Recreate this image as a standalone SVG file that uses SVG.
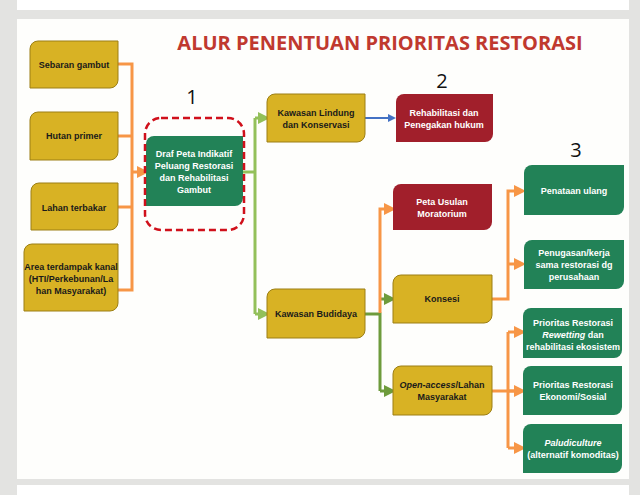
<svg xmlns="http://www.w3.org/2000/svg" width="640" height="495" viewBox="0 0 640 495">
<style>
.y{fill:#d8b224;stroke:#9c7f14;stroke-width:1}
.g{fill:#228257}
.r{fill:#a11f2b}
.t{font-family:"Liberation Sans Narrow","Liberation Sans",Arial,sans-serif;font-size:9px;font-weight:bold;text-anchor:middle}
.dk{fill:#1a1a1a}
.wh{fill:#ffffff}
.o{stroke:#f79646;stroke-width:3;fill:none}
.lg{stroke:#93c05a;stroke-width:3;fill:none}
.dg{stroke:#6e9b3c;stroke-width:3;fill:none}
</style>
<defs>
<marker id="ao" markerWidth="4" markerHeight="4" refX="2" refY="2" orient="auto" markerUnits="strokeWidth"><path d="M0,0L4,2L0,4z" fill="#f79646"/></marker>
<marker id="ag" markerWidth="4" markerHeight="4" refX="2" refY="2" orient="auto" markerUnits="strokeWidth"><path d="M0,0L4,2L0,4z" fill="#93c05a"/></marker>
<marker id="ad" markerWidth="4" markerHeight="4" refX="2" refY="2" orient="auto" markerUnits="strokeWidth"><path d="M0,0L4,2L0,4z" fill="#6e9b3c"/></marker>
<marker id="ab" markerWidth="4" markerHeight="4" refX="2" refY="2" orient="auto" markerUnits="strokeWidth"><path d="M0,0L4,2L0,4z" fill="#4472c4"/></marker>
</defs>
<rect width="640" height="495" fill="#e3e3e1"/>
<rect x="17" y="0" width="612" height="10" fill="#ffffff"/>
<rect x="17" y="19" width="612" height="460" fill="#fefefc"/>
<rect x="17" y="485" width="612" height="10" fill="#ffffff"/>
<text x="380" y="50" font-family="'Open Sans','Liberation Sans',sans-serif" font-size="20" font-weight="bold" fill="#c0392f" text-anchor="middle">ALUR PENENTUAN PRIORITAS RESTORASI</text>
<g font-family="'Open Sans','Liberation Sans',sans-serif" font-size="20" fill="#111" text-anchor="middle">
<text x="192" y="104">1</text><text x="442" y="88">2</text><text x="576" y="157">3</text>
</g>
<g id="connectors">
<path class="o" d="M118,64H132V290H118M118,136H132M118,207H132"/>
<path class="o" d="M132,172H143" marker-end="url(#ao)"/>
<path class="lg" d="M243,172H255M255,118V314"/>
<path class="lg" d="M255,118H264" marker-end="url(#ag)"/>
<path class="lg" d="M255,314H264" marker-end="url(#ag)"/>
<path d="M365,118H392" stroke="#4472c4" stroke-width="2" fill="none" marker-end="url(#ab)"/>
<path class="dg" d="M365,314H380V391"/>
<path class="dg" d="M380,299H390" marker-end="url(#ad)"/>
<path class="dg" d="M380,391H390" marker-end="url(#ad)"/>
<path class="o" d="M380,313V209H390" marker-end="url(#ao)"/>
<path class="o" d="M492,299H508V191H520" marker-end="url(#ao)"/>
<path class="o" d="M508,264H520" marker-end="url(#ao)"/>
<path class="o" d="M492,391H520M508,332V448" />
<path class="o" d="M508,332H520" marker-end="url(#ao)"/>
<path class="o" d="M508,391H520" marker-end="url(#ao)"/>
<path class="o" d="M508,448H520" marker-end="url(#ao)"/>
</g>
<g id="sebaran"><path class="y" d="M38,41h80v39a8,8 0 0 1 -8,8h-80v-39a8,8 0 0 1 8,-8z"/><text class="t dk" x="74" y="68">Sebaran gambut</text></g>
<g id="hutan"><path class="y" d="M38,112h80v40a8,8 0 0 1 -8,8h-80v-40a8,8 0 0 1 8,-8z"/><text class="t dk" x="74" y="139">Hutan primer</text></g>
<g id="lahan"><path class="y" d="M39,183h79v39a8,8 0 0 1 -8,8h-79v-39a8,8 0 0 1 8,-8z"/><text class="t dk" x="74" y="211">Lahan terbakar</text></g>
<g id="area"><path class="y" d="M32,244h86v59a8,8 0 0 1 -8,8h-86v-59a8,8 0 0 1 8,-8z"/><text class="t dk" x="71" y="270">Area terdampak kanal</text><text class="t dk" x="71" y="282">(HTI/Perkebunan/La</text><text class="t dk" x="71" y="294">han Masyarakat)</text></g>
<g id="draf"><path class="g" d="M154,136h89v62a8,8 0 0 1 -8,8h-89v-62a8,8 0 0 1 8,-8z"/>
<rect x="145" y="118" width="99" height="112" rx="16" fill="none" stroke="#d0101b" stroke-width="2.5" stroke-dasharray="7,4"/>
<text class="t wh" x="194" y="157">Draf Peta Indikatif</text><text class="t wh" x="194" y="169">Peluang Restorasi</text><text class="t wh" x="194" y="181">dan Rehabilitasi</text><text class="t wh" x="194" y="193">Gambut</text></g>
<g id="lindung"><path class="y" d="M275,94h90v40a8,8 0 0 1 -8,8h-90v-40a8,8 0 0 1 8,-8z"/><text class="t dk" x="316" y="116">Kawasan Lindung</text><text class="t dk" x="316" y="128">dan Konservasi</text></g>
<g id="rehab"><path class="r" d="M404,94h89v40a8,8 0 0 1 -8,8h-89v-40a8,8 0 0 1 8,-8z"/><text class="t wh" x="444" y="116">Rehabilitasi dan</text><text class="t wh" x="444" y="128">Penegakan hukum</text></g>
<g id="budidaya"><path class="y" d="M275,289h90v41a8,8 0 0 1 -8,8h-90v-41a8,8 0 0 1 8,-8z"/><text class="t dk" x="316" y="317">Kawasan Budidaya</text></g>
<g id="peta"><path class="r" d="M401,184h91v38a8,8 0 0 1 -8,8h-91v-38a8,8 0 0 1 8,-8z"/><text class="t wh" x="442" y="205">Peta Usulan</text><text class="t wh" x="442" y="217">Moratorium</text></g>
<g id="konsesi"><path class="y" d="M401,275h91v40a8,8 0 0 1 -8,8h-91v-40a8,8 0 0 1 8,-8z"/><text class="t dk" x="442" y="302">Konsesi</text></g>
<g id="open"><path class="y" d="M401,366h91v41a8,8 0 0 1 -8,8h-91v-41a8,8 0 0 1 8,-8z"/><text class="t dk" x="442" y="388"><tspan font-style="italic">Open-access</tspan>/Lahan</text><text class="t dk" x="442" y="400">Masyarakat</text></g>
<g id="penataan"><path class="g" d="M532,165h92v42a8,8 0 0 1 -8,8h-92v-42a8,8 0 0 1 8,-8z"/><text class="t wh" x="574" y="194">Penataan ulang</text></g>
<g id="penugasan"><path class="g" d="M532,240h92v41a8,8 0 0 1 -8,8h-92v-41a8,8 0 0 1 8,-8z"/><text class="t wh" x="574" y="256">Penugasan/kerja</text><text class="t wh" x="574" y="268">sama restorasi dg</text><text class="t wh" x="574" y="280">perusahaan</text></g>
<g id="rewetting"><path class="g" d="M531,308h91v42a8,8 0 0 1 -8,8h-91v-42a8,8 0 0 1 8,-8z"/><text class="t wh" x="573" y="326">Prioritas Restorasi</text><text class="t wh" x="573" y="338"><tspan font-style="italic">Rewetting</tspan> dan</text><text class="t wh" x="573" y="350">rehabilitasi ekosistem</text></g>
<g id="ekonomi"><path class="g" d="M531,366h91v41a8,8 0 0 1 -8,8h-91v-41a8,8 0 0 1 8,-8z"/><text class="t wh" x="573" y="388">Prioritas Restorasi</text><text class="t wh" x="573" y="400">Ekonomi/Sosial</text></g>
<g id="paludi"><path class="g" d="M531,424h91v41a8,8 0 0 1 -8,8h-91v-41a8,8 0 0 1 8,-8z"/><text class="t wh" x="573" y="446" font-style="italic">Paludiculture</text><text class="t wh" x="573" y="458">(alternatif komoditas)</text></g>
</svg>
